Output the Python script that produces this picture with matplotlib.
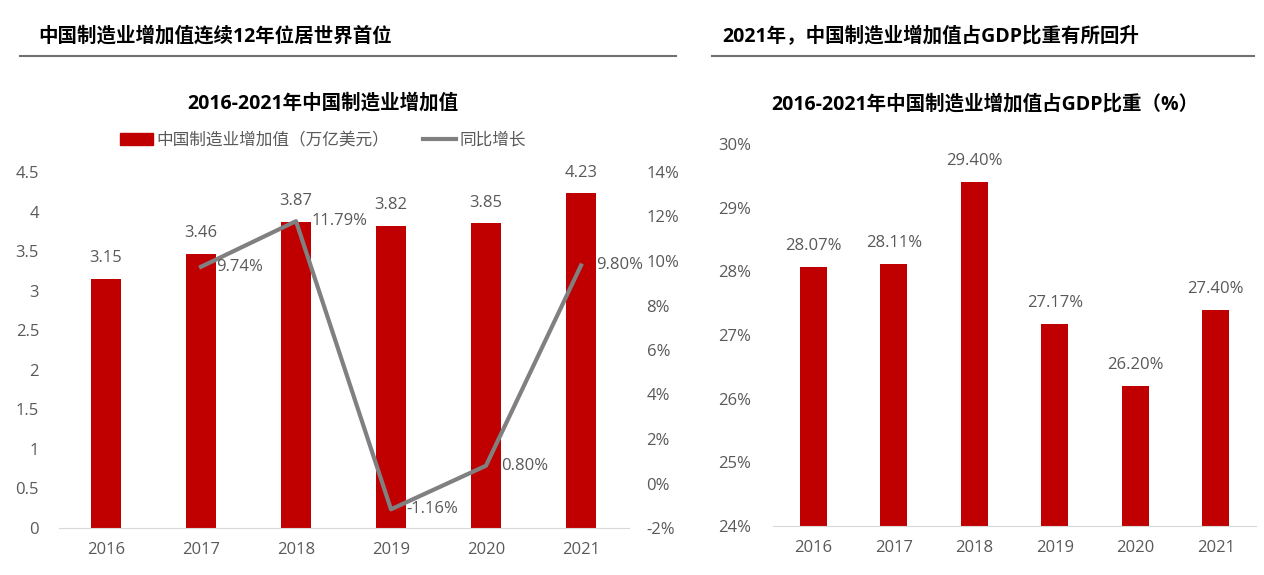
import matplotlib.pyplot as plt
from matplotlib.lines import Line2D
from matplotlib.patches import Patch

plt.rcParams['font.family'] = ['Open Sans', 'Noto Sans CJK SC', 'DejaVu Sans']

years = ['2016', '2017', '2018', '2019', '2020', '2021']
value_add = [3.15, 3.46, 3.87, 3.82, 3.85, 4.23]
growth_years = ['2017', '2018', '2019', '2020', '2021']
growth = [9.74, 11.79, -1.16, 0.80, 9.80]
gdp_share = [28.07, 28.11, 29.40, 27.17, 26.20, 27.40]

red = '#C00000'
gray_line = '#808080'
txt = '#595959'
fs = 12

fig = plt.figure(figsize=(12.64, 5.75), dpi=100)

# headers
fig.text(38 / 1264, 1 - 37 / 575, '中国制造业增加值连续12年位居世界首位',
         fontsize=14, fontweight='bold', va='center', ha='left', color='black')
fig.text(722 / 1264, 1 - 37 / 575, '2021年，中国制造业增加值占GDP比重有所回升',
         fontsize=14, fontweight='bold', va='center', ha='left', color='black')
fig.add_artist(Line2D([20 / 1264, 676 / 1264], [1 - 56 / 575] * 2, color='#707070', lw=1.5))
fig.add_artist(Line2D([712 / 1264, 1254 / 1264], [1 - 56 / 575] * 2, color='#707070', lw=1.5))

#########################
# left: value added + growth
#########################
ax1 = fig.add_axes([58.5 / 1264, 47 / 575, 570 / 1264, 356 / 575])
x = range(len(years))
ax1.bar(x, value_add, width=0.32, color=red)
for i, v in zip(x, value_add):
    ax1.annotate(f'{v:.2f}', (i, v), xytext=(0, 15), textcoords='offset points',
                 ha='center', va='center', fontsize=fs, color=txt)
ax1.set_ylim(0, 4.5)
ax1.set_yticks([0, 0.5, 1, 1.5, 2, 2.5, 3, 3.5, 4, 4.5])
ax1.set_yticklabels(['0', '0.5', '1', '1.5', '2', '2.5', '3', '3.5', '4', '4.5'])
ax1.set_xlim(-0.5, len(years) - 0.5)
ax1.set_xticks(list(x))
ax1.set_xticklabels(years)

ax2 = ax1.twinx()
gx = [years.index(y) for y in growth_years]
ax2.plot(gx, growth, color=gray_line, lw=3)
for i, v in zip(gx, growth):
    ax2.annotate(f'{v:.2f}%', (i, v), xytext=(11, 0), textcoords='offset points',
                 ha='left', va='center', fontsize=fs, color=txt)
ax2.set_ylim(-2, 14)
ax2.set_yticks(range(-2, 15, 2))
ax2.set_yticklabels([f'{t}%' for t in range(-2, 15, 2)])

for a in (ax1, ax2):
    for s in a.spines.values():
        s.set_visible(False)
    a.tick_params(length=0, labelsize=fs, labelcolor=txt)
ax1.spines['bottom'].set_visible(True)
ax1.spines['bottom'].set_color('#D9D9D9')
ax1.tick_params(axis='x', pad=10)
ax1.tick_params(axis='y', pad=14)
ax2.tick_params(axis='y', pad=13)

fig.text(323 / 1264, 1 - 104 / 575, '2016-2021年中国制造业增加值',
         fontsize=14, fontweight='bold', ha='center', va='center')
handles = [Patch(color=red), Line2D([0], [0], color=gray_line, lw=3)]
fig.legend(handles, ['中国制造业增加值（万亿美元）', '同比增长'],
           loc='center', bbox_to_anchor=(323 / 1264, 1 - 141 / 575), ncol=2,
           frameon=False, fontsize=12, labelcolor=txt, handlelength=2.0,
           handletextpad=0.2, columnspacing=2.0)

#########################
# right: share of GDP
#########################
ax3 = fig.add_axes([773 / 1264, 49 / 575, 483 / 1264, 382 / 575])
ax3.bar(x, gdp_share, width=0.33, color=red)
for i, v in zip(x, gdp_share):
    ax3.annotate(f'{v:.2f}%', (i, v), xytext=(0, 15), textcoords='offset points',
                 ha='center', va='center', fontsize=fs, color=txt)
ax3.set_ylim(24, 30)
ax3.set_yticks(range(24, 31))
ax3.set_yticklabels([f'{t}%' for t in range(24, 31)])
ax3.set_xlim(-0.5, len(years) - 0.5)
ax3.set_xticks(list(x))
ax3.set_xticklabels(years)
for s in ax3.spines.values():
    s.set_visible(False)
ax3.spines['bottom'].set_visible(True)
ax3.spines['bottom'].set_color('#D9D9D9')
ax3.tick_params(length=0, labelsize=fs, labelcolor=txt)
ax3.tick_params(axis='x', pad=10)
ax3.tick_params(axis='y', pad=16)

fig.text(985 / 1264, 1 - 104 / 575, '2016-2021年中国制造业增加值占GDP比重（%）',
         fontsize=14, fontweight='bold', ha='center', va='center')

plt.savefig('out.png', dpi=100)
